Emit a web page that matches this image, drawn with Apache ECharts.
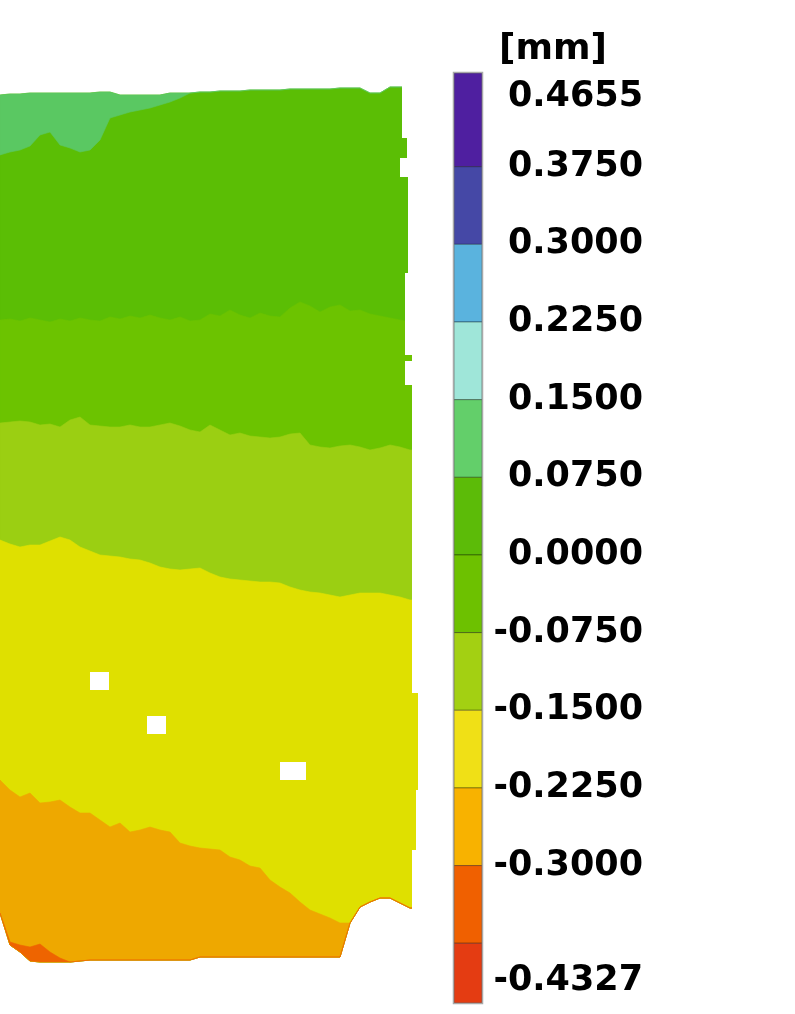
<!DOCTYPE html>
<html><head><meta charset="utf-8">
<script src="https://cdn.jsdelivr.net/npm/echarts@6.0.0/dist/echarts.min.js"></script>
<style>html,body{margin:0;padding:0;background:#fff}#c{width:795px;height:1014px}</style>
</head><body><div id="c"></div>
<script>
// ---- map sample columns (position units) ----
const xs = [0,10,20,30,40,50,60,70,80,90,100,110,120,130,140,150,160,170,180,190,200,210,220,230,240,250,260,270,280,290,300,310,320,330,340,350,360,370,380,390,400,410,420];
// upper edge of the measured surface
const topEdge = [95,94,94,93,93,93,93,93,93,93, 92,92,95,95,95,95,95,93,93,93, 92,92,91,91,91,90,90,90,90,89, 89,89,89,89,88,88,88,93,93,87, 87,87,87];
// lower limit of the +0.075..+0.150 patch near the top edge
const band0075Bottom = [155,152,150,146,135,132,145,148,152,150, 140,118,115,112,110,108,105,102,98,93, 92,92,91,91,91,90,90,90,90,89, 89,89,89,89,88,88,88,93,93,87, 87,87,87];
// iso-lines (contour boundaries)
const iso0000 = [320,319,321,318,320,322,319,321,318,320, 321,317,319,316,318,315,318,320,317,321, 320,314,316,310,315,318,313,316,317,308, 302,306,312,307,305,311,310,314,316,318, 320,322,322];
const isoM0750 = [423,422,421,422,425,424,427,420,417,425, 426,427,427,425,427,427,425,423,426,430, 432,425,430,435,433,436,437,438,437,434, 433,445,447,448,446,445,447,450,448,445, 447,450,450];
const isoM1500 = [540,544,547,545,545,541,537,540,547,551, 555,556,557,559,560,563,567,569,570,569, 568,573,577,579,580,581,582,582,583,587, 590,592,593,595,597,595,593,593,593,595, 597,600,600];
const isoM2250 = [780,790,797,793,803,802,800,807,813,813, 820,827,823,832,830,827,830,832,843,846, 848,849,850,857,860,866,868,880,887,893, 902,910,914,918,923,923,907,902,898,898, 903,908,908];
const isoM3000 = [913,942,945,947,944,952,958,962,961,960, 960,960,960,960,960,960,960,960,960,960, 957,957,957,957,957,957,957,957,957,957, 957,957,957,957,957,923,907,902,898,898, 903,908,908];
// lower edge of the measured surface
const bottomEdge = [913,945,952,961,962,962,962,962,961,960, 960,960,960,960,960,960,960,960,960,960, 957,957,957,957,957,957,957,957,957,957, 957,957,957,957,957,923,907,902,898,898, 903,908,908];
// right outline of the surface
const rightOutline = [[402,80],[402,138],[407,138],[407,158],[400,158],[400,177],[408,177],[408,273],[405,273],[405,355],[412,355],[412,361],[405,361],[405,385],[412,385],[412,693],[418,693],[418,790],[416,790],[416,850],[412,850],[412,925]];
// unmeasured holes (reference markers): [x0,y0,x1,y1]
const holes = [[90,672,109,690],[147,716,166,734],[280,762,306,780]];
// map fill colours (shaded render)
const mapColors = {
  g0075: '#5bbe05', g0150: '#5ac862', m0075: '#6cc300', m0150: '#9bcf12',
  m0225: '#dfe000', m0300: '#eea800', m0375: '#ee6400'
};
// ---- colour scale ----
const bandBreaks = [0.4655,0.375,0.3,0.225,0.15,0.075,0,-0.075,-0.15,-0.225,-0.3,-0.375,-0.4327];
const bandColors = ['#4f1fa0','#4548a6','#5ab3de','#9fe6d9','#63cf6a','#5cbb08','#6dc100','#a3d012','#f0e016','#f8b200','#f06000','#e43c12'];
const tickValues = [0.375,0.3,0.225,0.15,0.075,0,-0.075,-0.15,-0.225,-0.3];
const unitLabel = '[mm]';

const layers = [
  [topEdge, bottomEdge, mapColors.g0075],
  [topEdge, band0075Bottom, mapColors.g0150],
  [iso0000, bottomEdge, mapColors.m0075],
  [isoM0750, bottomEdge, mapColors.m0150],
  [isoM1500, bottomEdge, mapColors.m0225],
  [isoM2250, bottomEdge, mapColors.m0300],
  [isoM3000, bottomEdge, mapColors.m0375]
];

const FONT = 'bold 35px "DejaVu Sans"';
const chart = echarts.init(document.getElementById('c'), null, {renderer: 'canvas'});
chart.setOption({
  backgroundColor: '#ffffff',
  animation: false,
  title: {text: unitLabel, left: 494, top: 27, textStyle: {fontFamily: 'DejaVu Sans', fontWeight: 'bold', fontSize: 36, color: '#000'}},
  grid: [
    {left: 0, top: 0, width: 420, height: 1014},
    {left: 454, top: 73, width: 28, height: 930}
  ],
  xAxis: [
    {gridIndex: 0, type: 'value', min: 0, max: 420, show: false},
    {gridIndex: 1, type: 'value', min: 0, max: 1, show: false}
  ],
  yAxis: [
    {gridIndex: 0, type: 'value', min: 0, max: 1014, inverse: true, show: false},
    {gridIndex: 1, type: 'value', min: bandBreaks[bandBreaks.length-1], max: bandBreaks[0], position: 'right',
     axisLine: {show: false}, axisTick: {show: false}, splitLine: {show: false},
     axisLabel: {customValues: tickValues, formatter: v => Number(v).toFixed(4), align: 'right', margin: 161,
       fontFamily: 'DejaVu Sans', fontWeight: 'bold', fontSize: 35, color: '#000'}}
  ],
  series: [
    {
      type: 'custom', xAxisIndex: 0, yAxisIndex: 0, clip: false, silent: true,
      data: layers.map((l, i) => [i]),
      renderItem: function (params, api) {
        const [up, low, col] = layers[params.dataIndex];
        const pts = [];
        for (let k = 0; k < xs.length; k++) pts.push(api.coord([xs[k], up[k]]));
        for (let k = xs.length - 1; k >= 0; k--) pts.push(api.coord([xs[k], low[k]]));
        return {type: 'polygon', shape: {points: pts}, style: {fill: col, stroke: col, lineWidth: 0.6}};
      }
    },
    {
      type: 'custom', xAxisIndex: 0, yAxisIndex: 0, clip: false, silent: true, z: 3,
      data: [[0]],
      renderItem: function (params, api) {
        const pts = rightOutline.map(p => api.coord(p));
        const last = rightOutline[rightOutline.length - 1], first = rightOutline[0];
        pts.push(api.coord([430, last[1]]));
        pts.push(api.coord([430, first[1]]));
        const children = [{type: 'polygon', shape: {points: pts}, style: {fill: '#fff'}}];
        holes.forEach(h => {
          const a = api.coord([h[0], h[1]]), b = api.coord([h[2], h[3]]);
          children.push({type: 'rect', shape: {x: a[0], y: a[1], width: b[0]-a[0], height: b[1]-a[1]}, style: {fill: '#fff'}});
        });
        return {type: 'group', children};
      }
    },
    {
      type: 'custom', xAxisIndex: 1, yAxisIndex: 1, clip: false, silent: true,
      data: bandColors.map((c, i) => [i]),
      renderItem: function (params, api) {
        const i = params.dataIndex;
        const a = api.coord([0, bandBreaks[i]]), b = api.coord([1, bandBreaks[i+1]]);
        const children = [{type: 'rect', shape: {x: a[0], y: a[1], width: b[0]-a[0], height: b[1]-a[1]},
          style: {fill: bandColors[i], stroke: 'rgba(0,0,0,0.35)', lineWidth: 1}}];
        const top = api.coord([1, bandBreaks[0]]), bot = api.coord([0, bandBreaks[bandBreaks.length-1]]);
        if (i === 0) {
          children.push({type: 'text', x: top[0] + 161, y: top[1] + 24,
            style: {text: bandBreaks[0].toFixed(4), font: FONT, fill: '#000', align: 'right', verticalAlign: 'middle'}});
        }
        if (i === bandColors.length - 1) {
          children.push({type: 'rect', z2: 10, shape: {x: bot[0]-0.5, y: top[1]-0.5, width: top[0]-bot[0]+1, height: bot[1]-top[1]+1},
            style: {fill: 'none', stroke: '#a8a8a8', lineWidth: 1.5}});
          children.push({type: 'text', x: top[0] + 161, y: bot[1] - 22,
            style: {text: bandBreaks[bandBreaks.length-1].toFixed(4), font: FONT, fill: '#000', align: 'right', verticalAlign: 'middle'}});
        }
        return {type: 'group', children};
      }
    }
  ]
});
</script></body></html>
